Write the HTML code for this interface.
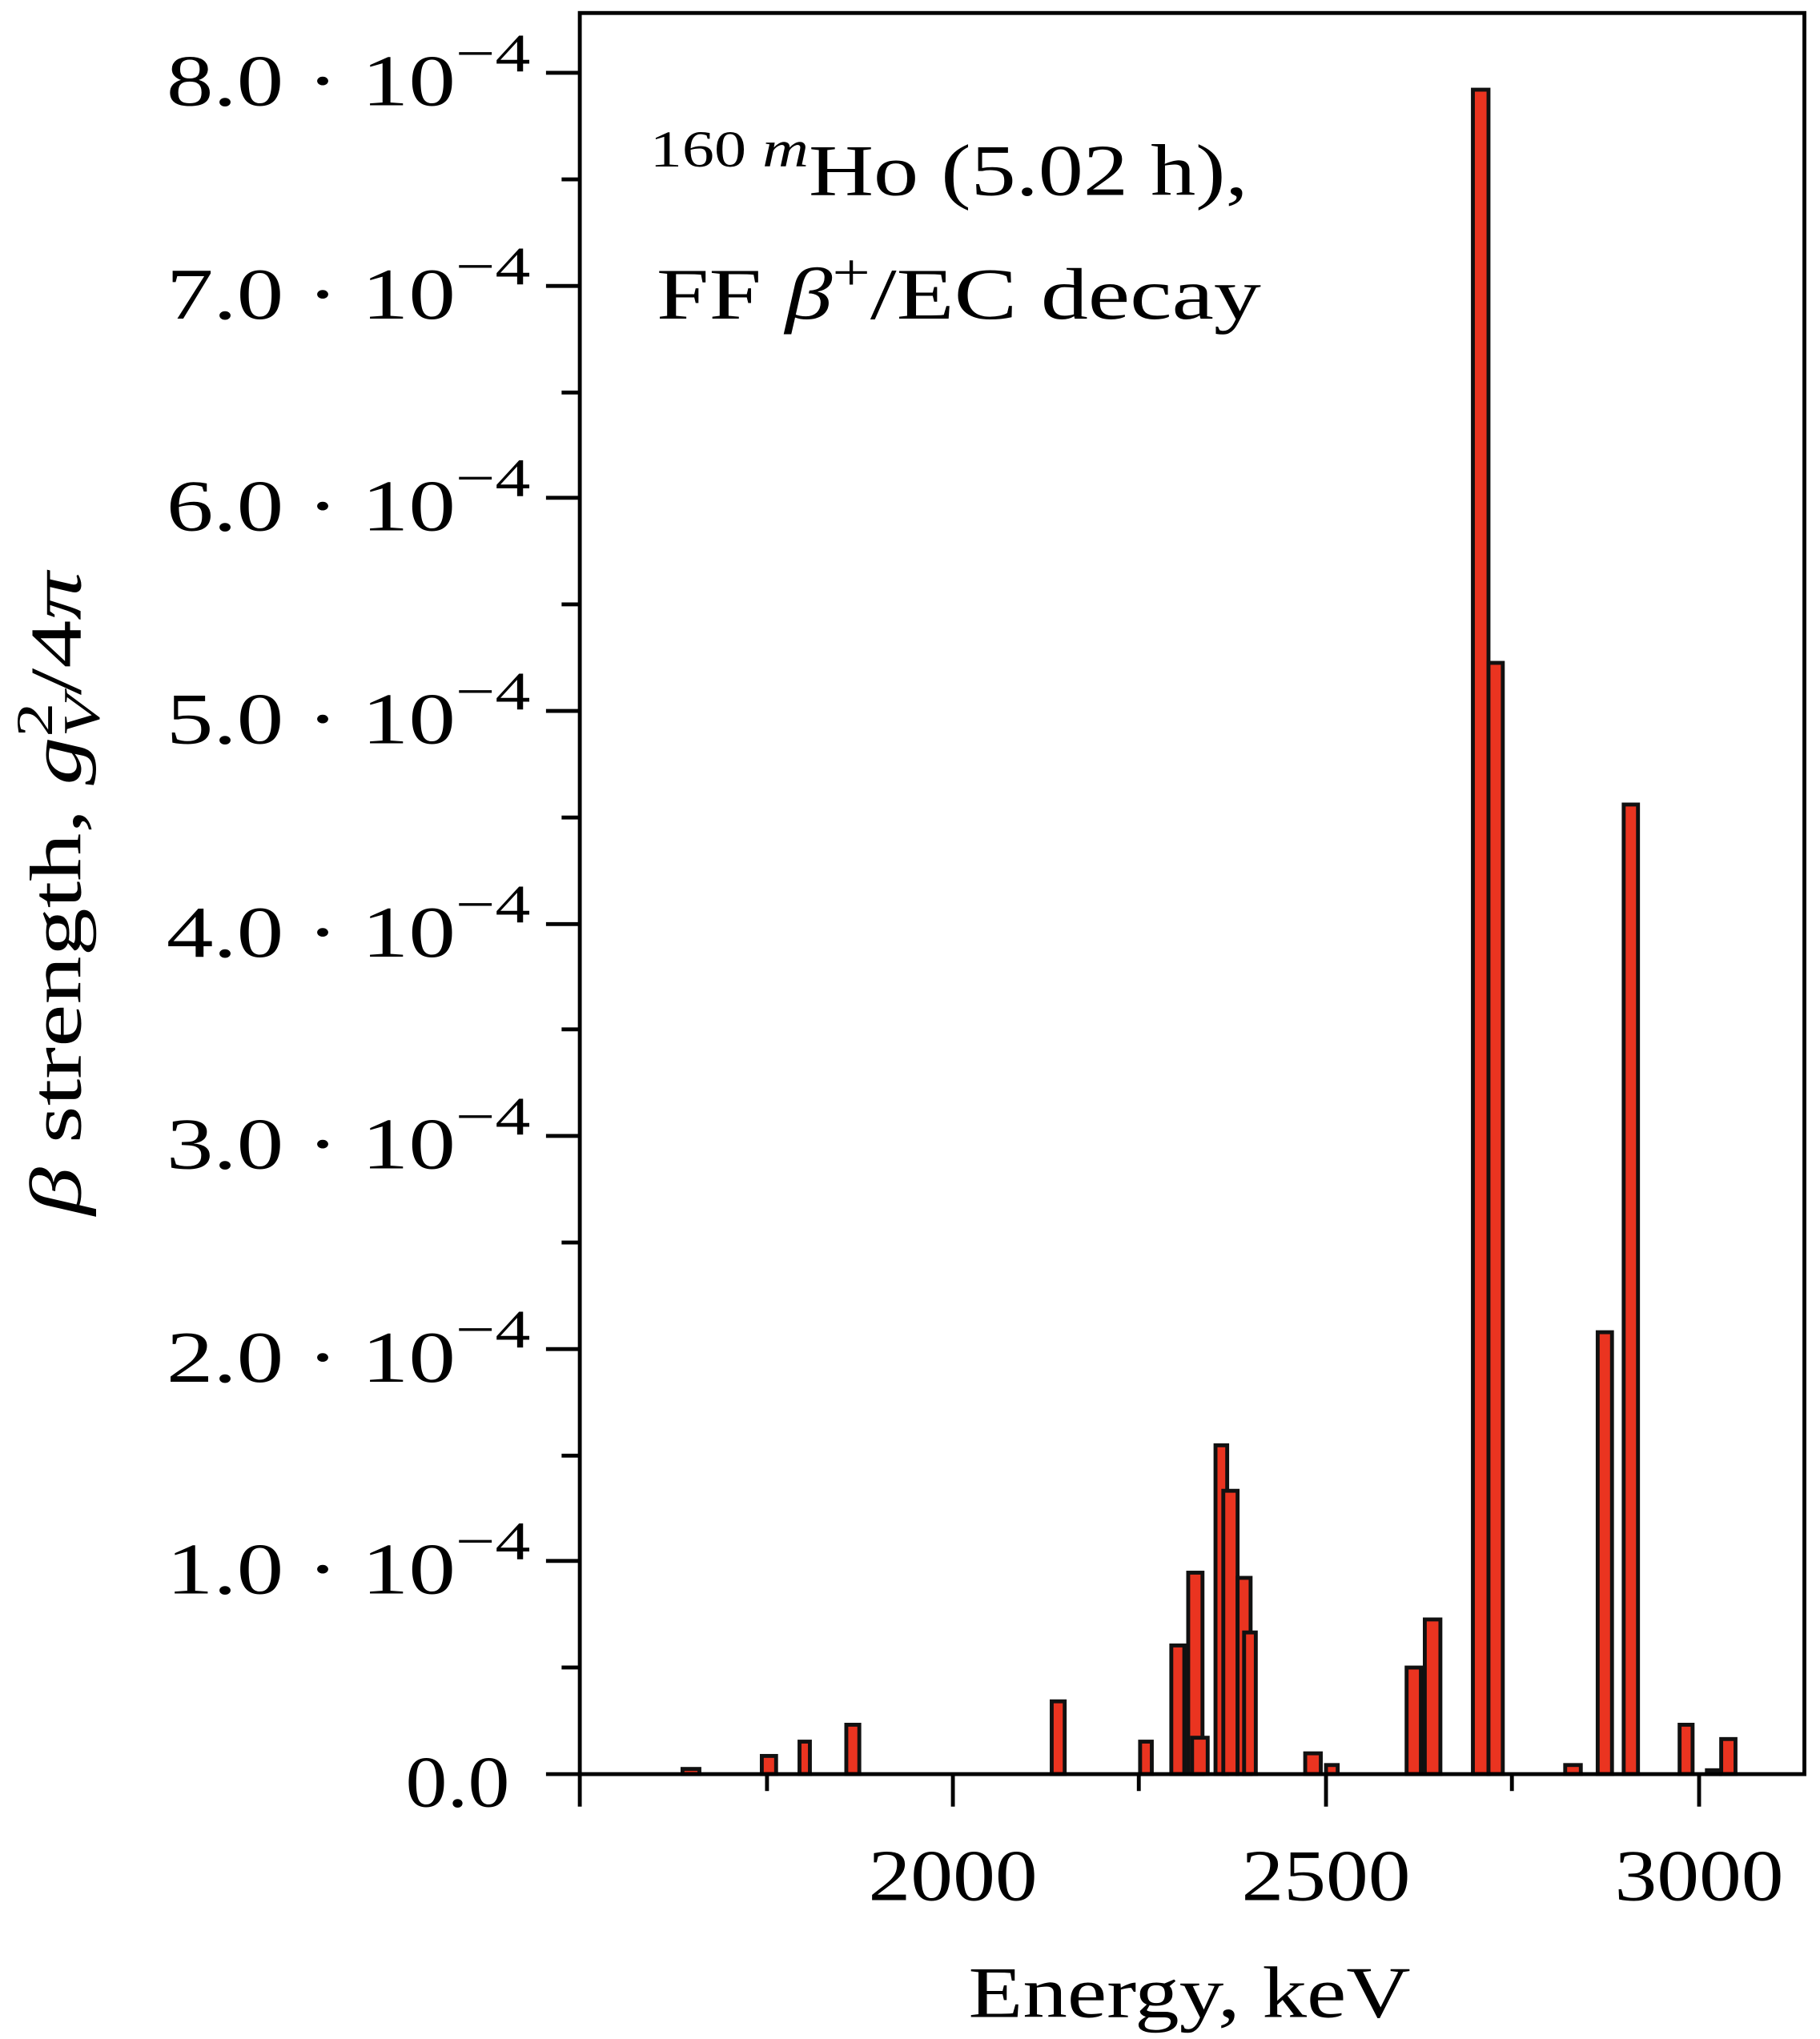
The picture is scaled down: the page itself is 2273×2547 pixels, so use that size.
<!DOCTYPE html>
<html><head><meta charset="utf-8"><style>html,body{margin:0;padding:0;background:#fff}svg{display:block}</style></head>
<body>
<svg width="2273" height="2547" viewBox="0 0 1400 1568.8" preserveAspectRatio="none" font-family="'Liberation Serif', serif">
<rect width="1400" height="1569" fill="#fff"/>
<g fill="#ea3420" stroke="#111" stroke-width="3">
<rect x="525" y="1361" width="13" height="4"/>
<rect x="586" y="1351" width="11" height="14"/>
<rect x="615" y="1340" width="8" height="25"/>
<rect x="651" y="1327" width="10" height="38"/>
<rect x="809" y="1309" width="10" height="56"/>
<rect x="877" y="1340" width="9" height="25"/>
<rect x="901" y="1266" width="10" height="99"/>
<rect x="914" y="1210" width="11" height="155"/>
<rect x="917" y="1337" width="12" height="28"/>
<rect x="935" y="1112" width="9" height="253"/>
<rect x="941" y="1147" width="11" height="218"/>
<rect x="952" y="1214" width="10" height="151"/>
<rect x="957" y="1256" width="9" height="109"/>
<rect x="1004" y="1349" width="12" height="16"/>
<rect x="1020" y="1358" width="9" height="7"/>
<rect x="1082" y="1283" width="11" height="82"/>
<rect x="1096" y="1246" width="12" height="119"/>
<rect x="1133" y="69" width="12" height="1296"/>
<rect x="1145" y="510" width="11" height="855"/>
<rect x="1204" y="1358" width="12" height="7"/>
<rect x="1229" y="1025" width="11" height="340"/>
<rect x="1249" y="619" width="11" height="746"/>
<rect x="1292" y="1327" width="10" height="38"/>
<rect x="1313" y="1362" width="10" height="3"/>
<rect x="1324" y="1338" width="11" height="27"/>
</g>
<rect x="446" y="10" width="942" height="1355" fill="none" stroke="#000" stroke-width="3"/>
<g stroke="#000" stroke-width="3">
<line x1="446" y1="1365" x2="446" y2="1390"/>
<line x1="733" y1="1365" x2="733" y2="1390"/>
<line x1="1020" y1="1365" x2="1020" y2="1390"/>
<line x1="1307" y1="1365" x2="1307" y2="1390"/>
<line x1="590" y1="1365" x2="590" y2="1378"/>
<line x1="876" y1="1365" x2="876" y2="1378"/>
<line x1="1163" y1="1365" x2="1163" y2="1378"/>
<line x1="420" y1="1365" x2="446" y2="1365"/>
<line x1="420" y1="1201" x2="446" y2="1201"/>
<line x1="420" y1="1038" x2="446" y2="1038"/>
<line x1="420" y1="874" x2="446" y2="874"/>
<line x1="420" y1="711" x2="446" y2="711"/>
<line x1="420" y1="547" x2="446" y2="547"/>
<line x1="420" y1="383" x2="446" y2="383"/>
<line x1="420" y1="220" x2="446" y2="220"/>
<line x1="420" y1="56" x2="446" y2="56"/>
<line x1="432" y1="1283" x2="446" y2="1283"/>
<line x1="432" y1="1120" x2="446" y2="1120"/>
<line x1="432" y1="956" x2="446" y2="956"/>
<line x1="432" y1="792" x2="446" y2="792"/>
<line x1="432" y1="629" x2="446" y2="629"/>
<line x1="432" y1="465" x2="446" y2="465"/>
<line x1="432" y1="302" x2="446" y2="302"/>
<line x1="432" y1="138" x2="446" y2="138"/>
</g>
<g font-size="56" fill="#000">
<text x="312" y="1390" textLength="80" lengthAdjust="spacingAndGlyphs">0.0</text>
<g>
<text x="128" y="1226" textLength="280" lengthAdjust="spacingAndGlyphs">1.0 · 10<tspan font-size="42" dy="-26">−4</tspan></text>
<text x="128" y="1063" textLength="280" lengthAdjust="spacingAndGlyphs">2.0 · 10<tspan font-size="42" dy="-26">−4</tspan></text>
<text x="128" y="899" textLength="280" lengthAdjust="spacingAndGlyphs">3.0 · 10<tspan font-size="42" dy="-26">−4</tspan></text>
<text x="128" y="736" textLength="280" lengthAdjust="spacingAndGlyphs">4.0 · 10<tspan font-size="42" dy="-26">−4</tspan></text>
<text x="128" y="572" textLength="280" lengthAdjust="spacingAndGlyphs">5.0 · 10<tspan font-size="42" dy="-26">−4</tspan></text>
<text x="128" y="408" textLength="280" lengthAdjust="spacingAndGlyphs">6.0 · 10<tspan font-size="42" dy="-26">−4</tspan></text>
<text x="128" y="245" textLength="280" lengthAdjust="spacingAndGlyphs">7.0 · 10<tspan font-size="42" dy="-26">−4</tspan></text>
<text x="128" y="81" textLength="280" lengthAdjust="spacingAndGlyphs">8.0 · 10<tspan font-size="42" dy="-26">−4</tspan></text>
</g>
<text x="668" y="1462" textLength="130" lengthAdjust="spacingAndGlyphs">2000</text>
<text x="955" y="1462" textLength="130" lengthAdjust="spacingAndGlyphs">2500</text>
<text x="1242" y="1462" textLength="130" lengthAdjust="spacingAndGlyphs">3000</text>
<text x="745" y="1552" textLength="340" lengthAdjust="spacingAndGlyphs">Energy, keV</text>
<text transform="translate(62,935) rotate(-90)" textLength="495" lengthAdjust="spacingAndGlyphs"><tspan font-style="italic">β</tspan> strength, <tspan font-style="italic">g</tspan><tspan font-size="40" dy="-22">2</tspan><tspan font-size="40" dx="-20" dy="36" font-style="italic">V</tspan><tspan dy="-14">/4</tspan><tspan font-style="italic">π</tspan></text>
<text x="500" y="150" textLength="460" lengthAdjust="spacingAndGlyphs"><tspan font-size="40" dy="-22">160</tspan><tspan font-size="40" font-style="italic"> m</tspan><tspan dy="22">Ho (5.02 h),</tspan></text>
<text x="505" y="245" textLength="465" lengthAdjust="spacingAndGlyphs">FF <tspan font-style="italic">β</tspan><tspan font-size="40" dy="-22">+</tspan><tspan dy="22">/EC decay</tspan></text>
</g>
</svg>
</body></html>
